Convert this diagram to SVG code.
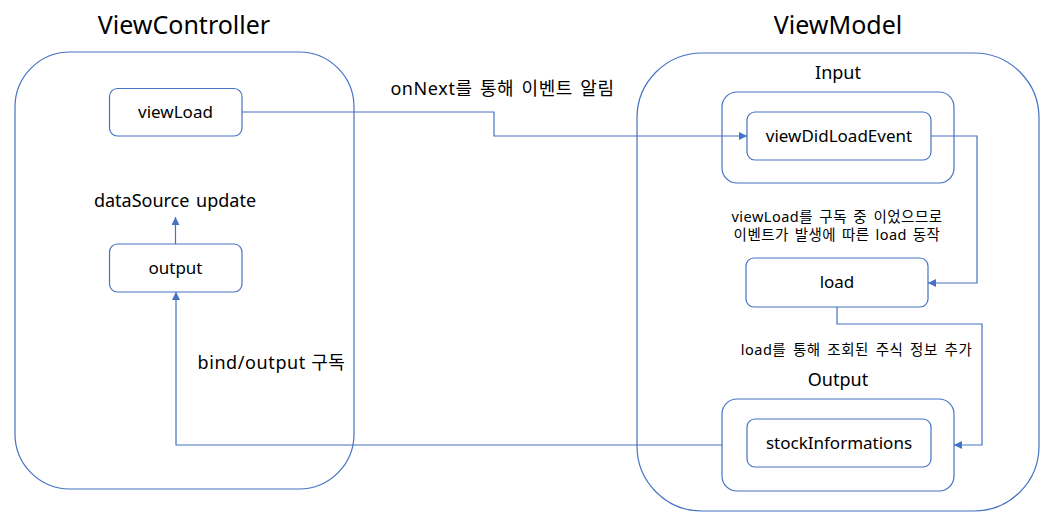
<svg xmlns="http://www.w3.org/2000/svg" width="1064" height="525" viewBox="0 0 1064 525">
<style>
.box{fill:#fff;stroke:#4472C4;stroke-width:1.2}
.cont{fill:none;stroke:#4472C4;stroke-width:1.2}
.con{fill:none;stroke:#4472C4;stroke-width:1.2}
text{font-family:"Noto Sans","Noto Sans CJK KR",sans-serif;fill:#000;text-anchor:middle}
.t{font-size:17px}
.title{font-size:25px}
.lbl{font-size:18px}
.kr{letter-spacing:0.6px}
.sm{font-size:14.5px;letter-spacing:0.5px}
</style>
<defs>
<marker id="ah" viewBox="0 0 10 10" refX="10" refY="5" markerWidth="8" markerHeight="8" markerUnits="userSpaceOnUse" orient="auto">
<path d="M0,0 L10,5 L0,10 z" fill="#4472C4"/>
</marker>
</defs>
<rect width="1064" height="525" fill="#fff"/>
<g id="viewcontroller">
<rect class="cont" x="15" y="52" width="339" height="437" rx="55"/>
<text class="title" x="184" y="34">ViewController</text>
</g>
<g id="viewmodel">
<rect class="cont" x="637" y="53" width="402" height="458" rx="65"/>
<text class="title" x="838" y="34">ViewModel</text>
</g>
<g id="input">
<rect class="cont" x="722" y="92" width="232" height="91" rx="15"/>
<text class="lbl" x="838" y="79">Input</text>
</g>
<g id="output-container">
<rect class="cont" x="722" y="399" width="232" height="92" rx="15"/>
<text class="lbl" x="838" y="386">Output</text>
</g>
<g id="viewLoad">
<rect class="box" x="109.5" y="88.5" width="132.5" height="47.5" rx="8"/>
<text class="t" x="175.5" y="118">viewLoad</text>
</g>
<g id="output">
<rect class="box" x="109.5" y="244" width="132.5" height="48" rx="8"/>
<text class="t" x="175.5" y="274">output</text>
</g>
<g id="viewDidLoadEvent">
<rect class="box" x="747" y="112" width="184" height="48" rx="8"/>
<text class="t" x="839" y="142">viewDidLoadEvent</text>
</g>
<g id="load">
<rect class="box" x="746" y="258" width="182" height="49" rx="8"/>
<text class="t" x="837" y="288">load</text>
</g>
<g id="stockInformations">
<rect class="box" x="747" y="419" width="184" height="48" rx="8"/>
<text class="t" x="839" y="449">stockInformations</text>
</g>
<g id="connectors">
<polyline class="con" points="242,112 494,112 494,136 747,136" marker-end="url(#ah)"/>
<polyline class="con" points="931,136 977,136 977,283 928,283" marker-end="url(#ah)"/>
<polyline class="con" points="837,307 837,324 982,324 982,445 954,445" marker-end="url(#ah)"/>
<polyline class="con" points="722,445 176,445 176,292" marker-end="url(#ah)"/>
<line class="con" x1="175.5" y1="244" x2="175.5" y2="217" marker-end="url(#ah)"/>
</g>
<g id="labels">
<text class="lbl" x="175" y="207" style="word-spacing:2px">dataSource update</text>
<text class="lbl kr" x="502.5" y="95" style="word-spacing:2px">onNext를 통해 이벤트 알림</text>
<text class="lbl kr" x="271.5" y="369">bind/output 구독</text>
<text class="sm" x="837" y="222" style="word-spacing:2px">viewLoad를 구독 중 이었으므로</text>
<text class="sm" x="837" y="240" style="word-spacing:1.5px">이벤트가 발생에 따른 load 동작</text>
<text class="sm" x="856.5" y="355" style="word-spacing:2.5px">load를 통해 조회된 주식 정보 추가</text>
</g>
</svg>
